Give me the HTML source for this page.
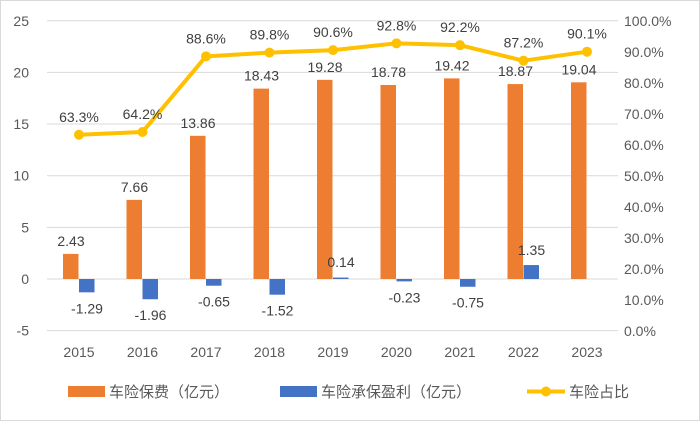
<!DOCTYPE html>
<html><head><meta charset="utf-8"><style>
html,body{margin:0;padding:0;background:#fff;}
svg{display:block;font-family:"Liberation Sans","Noto Sans CJK SC",sans-serif;}
</style></head><body>
<svg id="chart" width="700" height="421">
<rect x="0.5" y="0.5" width="699" height="420" fill="#fff" stroke="#d9d9d9"/>
<g id="grid"></g><g id="bars"></g><g id="line"></g><g id="labels"></g>
<g>
<rect x="68" y="386" width="37" height="11" fill="#ED7D31"/>
<text x="109" y="397" font-size="15" fill="#595959">车险保费（亿元）</text>
<rect x="280" y="386" width="37" height="11" fill="#4472C4"/>
<text x="321" y="397" font-size="15" fill="#595959">车险承保盈利（亿元）</text>
<line x1="527" y1="391.5" x2="565" y2="391.5" stroke="#FFC000" stroke-width="4"/>
<circle cx="546" cy="391.5" r="5" fill="#FFC000"/>
<text x="569" y="397" font-size="15" fill="#595959">车险占比</text>
</g>
</svg>
<script>
const years=["2015","2016","2017","2018","2019","2020","2021","2022","2023"];
const premium=[2.43,7.66,13.86,18.43,19.28,18.78,19.42,18.87,19.04];
const profit=[-1.29,-1.96,-0.65,-1.52,0.14,-0.23,-0.75,1.35,0];
const ratio=[63.3,64.2,88.6,89.8,90.6,92.8,92.2,87.2,90.1];
const leftTicks=[-5,0,5,10,15,20,25];
const rightTicks=[0,10,20,30,40,50,60,70,80,90,100];
const NS="http://www.w3.org/2000/svg";
const yL=v=>279-(v)*10.33;
const yR=p=>331-p*3.1;
const xC=i=>79+i*63.5;
function mk(tag,attrs,parent,txt){const e=document.createElementNS(NS,tag);for(const k in attrs)e.setAttribute(k,attrs[k]);if(txt!==undefined)e.textContent=txt;document.getElementById(parent).appendChild(e);return e;}
leftTicks.forEach(t=>{
 const g=mk('line',{x1:47,x2:618,y1:yL(t),y2:yL(t),stroke:'#d9d9d9','stroke-width':1},'grid');
 
 
 const l=mk('text',{x:29,y:yL(t)+5,'font-size':14,fill:'#595959','text-anchor':'end'},'grid',String(t));
 
 
});
rightTicks.forEach(t=>{
 const l=mk('text',{x:624,y:yR(t)+5,'font-size':14,fill:'#595959'},'grid',t.toFixed(1)+'%');
 
 
});
years.forEach((y,i)=>{
 const l=mk('text',{x:xC(i),y:357,'font-size':14,fill:'#595959','text-anchor':'middle'},'grid',y);
 
 
 const v=premium[i];
 const b=mk('rect',{x:xC(i)-16,y:Math.min(yL(v),yL(0)),width:15.5,height:Math.abs(yL(v)-yL(0)),fill:'#ED7D31'},'bars');
 
 
 const pl=mk('text',{x:xC(i)-8,y:yL(v)-8,'font-size':14,fill:'#404040','text-anchor':'middle'},'labels',v.toFixed(2));
 
 
 const p=profit[i];
 if(p!==0){
  const bb=mk('rect',{x:xC(i),y:Math.min(yL(p),yL(0)),width:15.5,height:Math.abs(yL(p)-yL(0)),fill:'#4472C4'},'bars');
  
  
  const ly=p<0?yL(p)+21:yL(p)-10;
  const t=mk('text',{x:xC(i)+8,y:p===0.14?267:ly,'font-size':14,fill:'#404040','text-anchor':'middle'},'labels',p.toFixed(2));
  
  
 }
});
const pts=ratio.map((r,i)=>xC(i)+','+yR(r)).join(' ');
const pl=mk('polyline',{points:pts,fill:'none',stroke:'#FFC000','stroke-width':4,'stroke-linejoin':'round'},'line');


ratio.forEach((r,i)=>{
 const c=mk('circle',{cx:xC(i),cy:yR(r),r:5,fill:'#FFC000'},'line');
 
 
 const t=mk('text',{x:xC(i),y:yR(r)-13,'font-size':14,fill:'#404040','text-anchor':'middle'},'labels',r.toFixed(1)+'%');
 
 
});
</script>
</body></html>
